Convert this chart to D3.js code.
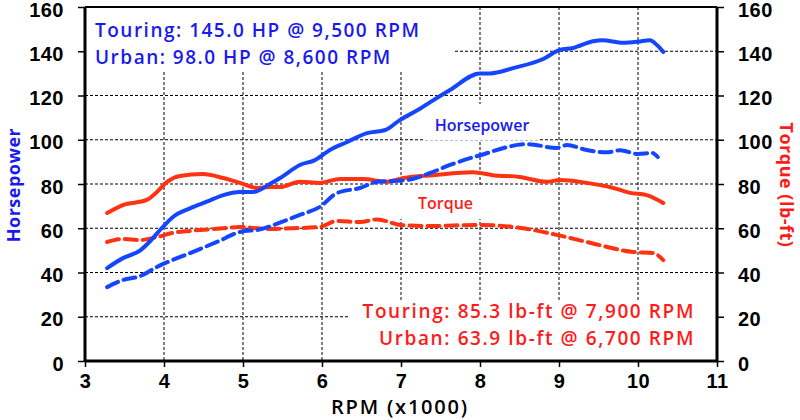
<!DOCTYPE html>
<html>
<head>
<meta charset="utf-8">
<script src="https://cdn.jsdelivr.net/npm/d3@7"></script>
<style>
  body { margin: 0; background: #fff; }
  svg { font-family: "Open Sans", "Noto Sans", sans-serif; }
</style>
</head>
<body>
<svg id="chart"></svg>
<script>
// dyno chart - hp and torque, touring vs urban

var xTicks = [3, 4, 5, 6, 7, 8, 9, 10, 11];
var yTicks = [0, 20, 40, 60, 80, 100, 120, 140, 160];

var touringHpRpm = [3.28, 3.48, 3.70, 3.82, 3.97, 4.11, 4.33, 4.54, 4.75, 4.96, 5.13, 5.34, 5.47, 5.72, 5.91, 6.10, 6.32, 6.57, 6.80, 6.99, 7.24, 7.37, 7.62, 8.0, 8.13, 8.42, 8.80, 9.01, 9.18, 9.43, 9.55, 9.81, 10.0, 10.15, 10.24, 10.32];
var touringHp = [42, 46.5, 50, 54, 60, 65, 69, 72, 75, 76.4, 76.4, 80, 82.7, 88.6, 90.8, 95.4, 99, 103, 104.4, 109, 114, 117, 122.5, 130, 130, 132.4, 136.5, 140.6, 141.5, 144.5, 145, 143.8, 144.3, 145, 142.8, 139.7];

var urbanHpRpm = [3.28, 3.48, 3.70, 3.91, 4.33, 4.67, 4.96, 5.22, 5.5, 5.72, 5.97, 6.19, 6.48, 6.70, 7.08, 7.37, 7.62, 8.0, 8.6, 8.97, 9.1, 9.35, 9.6, 9.77, 10.0, 10.18, 10.25];
var urbanHp = [33.4, 36.6, 38.4, 42.5, 48.8, 53.8, 58.3, 59.5, 63, 66, 69.6, 75.9, 78.2, 81, 81.8, 85, 88.6, 93, 98, 96.3, 97.6, 95.4, 94.3, 95.2, 93.6, 94, 92.2];

var touringTqRpm = [3.28, 3.48, 3.78, 3.91, 4.04, 4.2, 4.49, 4.75, 4.96, 5.18, 5.34, 5.47, 5.72, 5.97, 6.23, 6.52, 6.82, 7.03, 7.41, 7.91, 8.16, 8.5, 8.85, 9.01, 9.35, 9.69, 9.9, 10.11, 10.32];
var touringTq = [66.9, 70.5, 72.8, 76.4, 81, 83.6, 84.5, 82.7, 80.5, 78.2, 78.6, 78.6, 81, 80.5, 82.3, 82.3, 81, 82.7, 84, 85.3, 84, 83.2, 81, 81.8, 80.5, 78.2, 76, 75, 71.4];

var urbanTqRpm = [3.28, 3.48, 3.70, 3.91, 4.11, 4.33, 4.75, 4.96, 5.18, 5.34, 5.63, 5.97, 6.19, 6.48, 6.70, 6.99, 7.33, 8.0, 8.42, 8.97, 9.35, 9.94, 10.19, 10.32];
var urbanTq = [53.8, 55.1, 54.7, 56, 57.9, 58.8, 60, 60.6, 60, 59.7, 60, 60.6, 63.3, 62.8, 64, 61.5, 61, 61.5, 60.6, 57, 53.8, 49.3, 48.8, 45.6];

var hpNotes = ["Touring: 145.0 HP @ 9,500 RPM", "Urban: 98.0 HP @ 8,600 RPM"];
var tqNotes = ["Touring: 85.3 lb-ft @ 7,900 RPM", "Urban: 63.9 lb-ft @ 6,700 RPM"];

var width = 800, height = 420;
var blueLine = "#1446ff", blueText = "#1a1aee";
var redLine = "#ff3311", redText = "#ff1a1a";

var svg = d3.select("#chart").attr("width", width).attr("height", height);

var x = d3.scaleLinear().domain([3, 11]).range([85, 717]);
var y = d3.scaleLinear().domain([0, 160]).range([361, 7]);

// grid
var grid = svg.append("g")
    .attr("stroke", "#000")
    .attr("stroke-width", 1)
    .attr("stroke-dasharray", "3,2");
grid.selectAll(".vg").data(xTicks.slice(1, -1)).enter().append("line")
    .attr("x1", d => x(d)).attr("x2", d => x(d))
    .attr("y1", y(160)).attr("y2", y(0));
grid.selectAll(".hg").data(yTicks.slice(1, -1)).enter().append("line")
    .attr("x1", x(3)).attr("x2", x(11))
    .attr("y1", d => y(d)).attr("y2", d => y(d));

// white boxes behind the notes
svg.append("rect").attr("x", x(3)).attr("y", y(160)).attr("width", 370).attr("height", 65).attr("fill", "#fff");
svg.append("rect").attr("x", 424).attr("y", 104).attr("width", 116).attr("height", 36).attr("fill", "#fff");
svg.append("rect").attr("x", 398).attr("y", 185).attr("width", 92).attr("height", 34).attr("fill", "#fff");
svg.append("rect").attr("x", 348).attr("y", 300).attr("width", x(11) - 348).attr("height", y(0) - 300).attr("fill", "#fff");

function series(rpm, vals) {
  return rpm.map((r, i) => ({ rpm: r, v: vals[i] }));
}

var line = d3.line()
    .x(d => x(d.rpm))
    .y(d => y(d.v))
    .curve(d3.curveMonotoneX);

var lines = [
  { data: series(urbanTqRpm, urbanTq), color: redLine, dash: "12,6" },
  { data: series(touringTqRpm, touringTq), color: redLine, dash: null },
  { data: series(urbanHpRpm, urbanHp), color: blueLine, dash: "12,6" },
  { data: series(touringHpRpm, touringHp), color: blueLine, dash: null }
];

svg.selectAll(".curve").data(lines).enter().append("path")
    .attr("d", d => line(d.data))
    .attr("fill", "none")
    .attr("stroke", d => d.color)
    .attr("stroke-width", 4)
    .attr("stroke-linecap", "round")
    .attr("stroke-linejoin", "round")
    .attr("stroke-dasharray", d => d.dash);

// axes
var xAxis = svg.append("g").attr("transform", "translate(0," + y(0) + ")")
    .call(d3.axisBottom(x).tickValues(xTicks).tickFormat(d3.format("d")).tickSize(6).tickPadding(7));
var yLeft = svg.append("g").attr("transform", "translate(" + x(3) + ",0)")
    .call(d3.axisLeft(y).tickValues(yTicks).tickSize(7).tickPadding(14));
var yRight = svg.append("g").attr("transform", "translate(" + x(11) + ",0)")
    .call(d3.axisRight(y).tickValues(yTicks).tickSize(7).tickPadding(14));

[xAxis, yLeft, yRight].forEach(function(g) {
  g.select(".domain").attr("stroke", "#000").attr("stroke-width", 3);
  g.selectAll(".tick line").attr("stroke", "#000").attr("stroke-width", 1.5);
  g.selectAll(".tick text").attr("fill", "#000")
      .style("font-size", "20px").style("font-weight", 600).style("letter-spacing", "0.5px");
});
yLeft.selectAll(".tick text").attr("dy", "0.45em");
yRight.selectAll(".tick text").attr("dy", "0.45em");
yLeft.select(".domain").attr("d", "M0," + y(160) + "V" + y(0));
yRight.select(".domain").attr("d", "M0," + y(160) + "V" + y(0));
xAxis.select(".domain").attr("d", "M" + x(3) + ",0H" + x(11));

// top border
svg.append("line").attr("x1", x(3)).attr("x2", x(11)).attr("y1", y(160)).attr("y2", y(160))
    .attr("stroke", "#000").attr("stroke-width", 2);

// axis titles
svg.append("text").attr("x", 400).attr("y", 414).attr("text-anchor", "middle")
    .style("font-size", "20px").style("font-weight", 600).style("letter-spacing", "1.8px").text("RPM (x1000)");
svg.append("text").attr("transform", "translate(20,185) rotate(-90)").attr("text-anchor", "middle")
    .attr("fill", blueText).style("font-size", "18px").style("font-weight", 700).style("letter-spacing", "0.5px").text("Horsepower");
svg.append("text").attr("transform", "translate(780,185) rotate(90)").attr("text-anchor", "middle")
    .attr("fill", redText).style("font-size", "18px").style("font-weight", 700).style("letter-spacing", "0.5px").text("Torque (lb-ft)");

// notes
svg.selectAll(".hpnote").data(hpNotes).enter().append("text")
    .attr("x", 95).attr("y", (d, i) => 37 + i * 27)
    .attr("fill", blueText).style("font-size", "19px").style("font-weight", 600).style("letter-spacing", "1.5px")
    .text(d => d);
svg.selectAll(".tqnote").data(tqNotes).enter().append("text")
    .attr("x", 695).attr("y", (d, i) => 318 + i * 27).attr("text-anchor", "end")
    .attr("fill", redText).style("font-size", "19px").style("font-weight", 600).style("letter-spacing", "1.6px")
    .text(d => d);
svg.append("text").attr("x", 482).attr("y", 131).attr("text-anchor", "middle")
    .attr("fill", blueText).style("font-size", "16px").style("font-weight", 600).text("Horsepower");
svg.append("text").attr("x", 418).attr("y", 209)
    .attr("fill", redText).style("font-size", "16px").style("font-weight", 600).text("Torque");
</script>
</body>
</html>
